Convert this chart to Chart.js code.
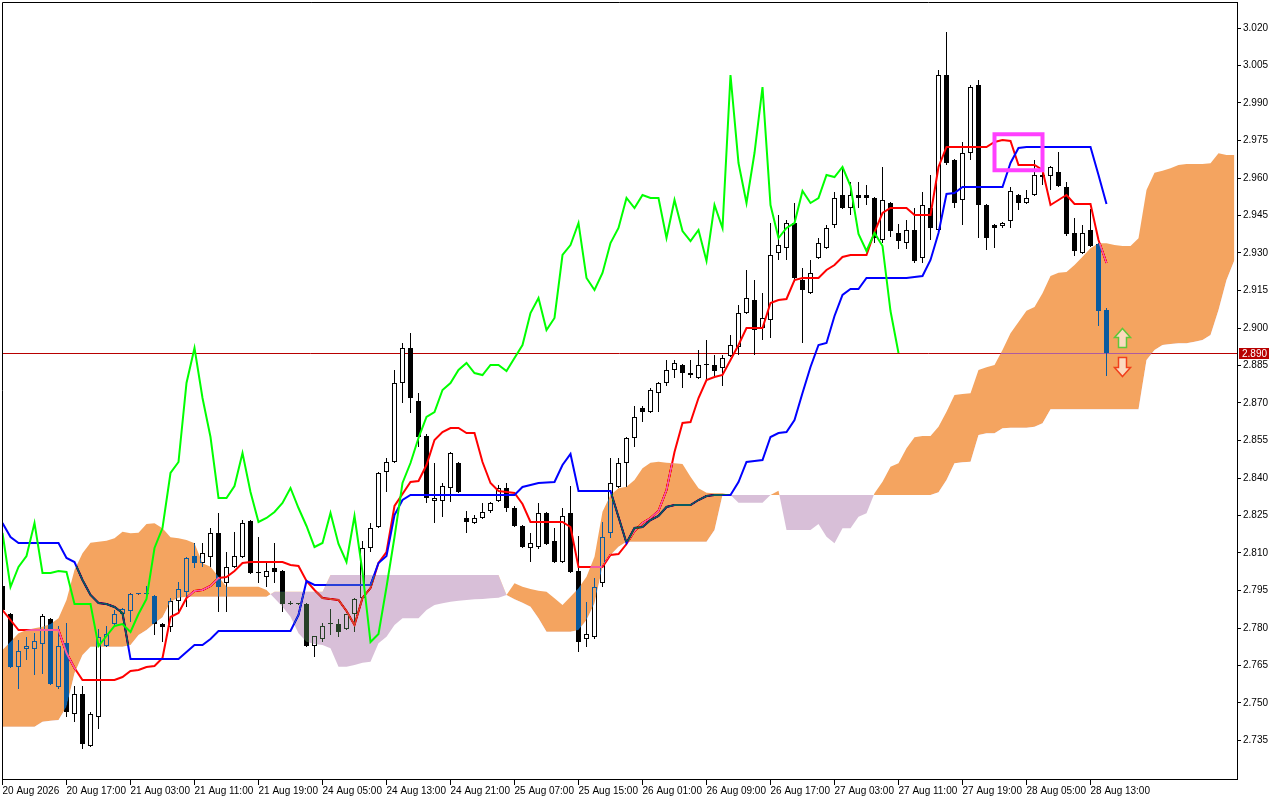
<!DOCTYPE html>
<html>
<head>
<meta charset="utf-8">
<title>Ichimoku H1</title>
<script src="https://cdn.jsdelivr.net/npm/chart.js@4.4.1/dist/chart.umd.min.js"></script>
<style>
  html, body { margin: 0; padding: 0; background: #fff; overflow: hidden; }
  #wrap { position: relative; width: 1280px; height: 800px; }
</style>
</head>
<body>
<div id="wrap"><canvas id="myChart"></canvas></div>
<script>
const ctx = document.getElementById('myChart');

// hourly candles, bar 0 = first bar on screen
const opens = [
  2.7968, 2.7856, 2.7644, 2.7716, 2.7716, 2.7736, 2.7836, 2.7564, 2.7740, 2.7456,
  2.7536, 2.7328, 2.7444, 2.7728, 2.7816, 2.7856, 2.7868, 2.7936, 2.7936, 2.7928,
  2.7816, 2.7804, 2.7908, 2.7944, 2.8088, 2.8060, 2.8084, 2.8180, 2.7980, 2.8044,
  2.8084, 2.8228, 2.8020, 2.8004, 2.8040, 2.8028, 2.7896, 2.7896, 2.7896, 2.7728,
  2.7756, 2.7816, 2.7816, 2.7796, 2.7856, 2.7920, 2.8120, 2.8204, 2.8424, 2.8464,
  2.8780, 2.8920, 2.8708, 2.8568, 2.8308, 2.8308, 2.8360, 2.8460, 2.8240, 2.8220,
  2.8240, 2.8268, 2.8308, 2.8360, 2.8280, 2.8208, 2.8120, 2.8124, 2.8260, 2.8148,
  2.8064, 2.8260, 2.8028, 2.7756, 2.7764, 2.7980, 2.8180, 2.8364, 2.8460, 2.8560,
  2.8680, 2.8664, 2.8740, 2.8780, 2.8832, 2.8852, 2.8820, 2.8800, 2.8852, 2.8852,
  2.8840, 2.8888, 2.8924, 2.9060, 2.9112, 2.9000, 2.9032, 2.9300, 2.9320, 2.9420,
  2.9192, 2.9140, 2.9280, 2.9320, 2.9412, 2.9532, 2.9480, 2.9532, 2.9532, 2.9520,
  2.9352, 2.9500, 2.9380, 2.9340, 2.9392, 2.9280, 2.9480, 2.9392, 3.0012, 2.9672,
  2.9512, 2.9700, 2.9972, 2.9492, 2.9412, 2.9408, 2.9428, 2.9532, 2.9500, 2.9532,
  2.9612, 2.9608, 2.9624, 2.9564, 2.9380, 2.9300, 2.9392, 2.9336, 2.9072
];
const highs = [
  2.7976, 2.7860, 2.7752, 2.7764, 2.7780, 2.7856, 2.7840, 2.7808, 2.7820, 2.7568,
  2.7568, 2.7464, 2.7796, 2.7808, 2.7872, 2.7880, 2.7938, 2.7938, 2.7968, 2.7932,
  2.7820, 2.7920, 2.7984, 2.8084, 2.8140, 2.8140, 2.8200, 2.8260, 2.8104, 2.8184,
  2.8232, 2.8232, 2.8164, 2.8064, 2.8140, 2.8032, 2.7908, 2.7900, 2.7900, 2.7768,
  2.7820, 2.7876, 2.7836, 2.7856, 2.7920, 2.8148, 2.8220, 2.8424, 2.8480, 2.8832,
  2.8940, 2.8980, 2.8740, 2.8576, 2.8460, 2.8380, 2.8504, 2.8464, 2.8268, 2.8252,
  2.8300, 2.8304, 2.8372, 2.8380, 2.8288, 2.8212, 2.8180, 2.8300, 2.8264, 2.8200,
  2.8280, 2.8368, 2.8168, 2.7904, 2.8000, 2.8224, 2.8480, 2.8480, 2.8564, 2.8688,
  2.8688, 2.8760, 2.8784, 2.8872, 2.8872, 2.8856, 2.8872, 2.8912, 2.8952, 2.8892,
  2.8892, 2.8972, 2.9092, 2.9232, 2.9192, 2.9140, 2.9420, 2.9452, 2.9432, 2.9500,
  2.9240, 2.9272, 2.9360, 2.9412, 2.9544, 2.9644, 2.9584, 2.9584, 2.9572, 2.9524,
  2.9644, 2.9504, 2.9416, 2.9432, 2.9480, 2.9544, 2.9612, 3.0032, 3.0184, 2.9676,
  2.9744, 2.9972, 2.9992, 2.9496, 2.9416, 2.9424, 2.9564, 2.9536, 2.9552, 2.9672,
  2.9652, 2.9648, 2.9704, 2.9584, 2.9440, 2.9412, 2.9476, 2.9340, 2.9080
];
const lows = [
  2.7864, 2.7640, 2.7556, 2.7672, 2.7612, 2.7616, 2.7572, 2.7556, 2.7444, 2.7424,
  2.7316, 2.7324, 2.7396, 2.7724, 2.7812, 2.7852, 2.7824, 2.7934, 2.7932, 2.7772,
  2.7744, 2.7784, 2.7860, 2.7884, 2.8040, 2.8044, 2.8044, 2.7864, 2.7864, 2.8040,
  2.8080, 2.8016, 2.7980, 2.7964, 2.7980, 2.7864, 2.7892, 2.7892, 2.7724, 2.7684,
  2.7744, 2.7772, 2.7764, 2.7792, 2.7784, 2.7912, 2.8104, 2.8200, 2.8344, 2.8460,
  2.8700, 2.8660, 2.8524, 2.8300, 2.8220, 2.8244, 2.8304, 2.8340, 2.8180, 2.8216,
  2.8236, 2.8260, 2.8304, 2.8264, 2.8204, 2.8120, 2.8064, 2.8116, 2.8132, 2.8060,
  2.8060, 2.8020, 2.7704, 2.7724, 2.7756, 2.7964, 2.8160, 2.8360, 2.8364, 2.8524,
  2.8624, 2.8660, 2.8664, 2.8768, 2.8800, 2.8760, 2.8800, 2.8796, 2.8792, 2.8804,
  2.8768, 2.8884, 2.8892, 2.9056, 2.8892, 2.8952, 2.8960, 2.9272, 2.9272, 2.9184,
  2.8940, 2.9136, 2.9276, 2.9316, 2.9400, 2.9476, 2.9452, 2.9480, 2.9492, 2.9340,
  2.9340, 2.9364, 2.9316, 2.9316, 2.9260, 2.9260, 2.9352, 2.9388, 2.9652, 2.9480,
  2.9412, 2.9672, 2.9360, 2.9312, 2.9320, 2.9400, 2.9400, 2.9472, 2.9496, 2.9528,
  2.9572, 2.9552, 2.9564, 2.9368, 2.9288, 2.9296, 2.9324, 2.9008, 2.8808
];
const closes = [
  2.7872, 2.7644, 2.7708, 2.7728, 2.7748, 2.7848, 2.7576, 2.7728, 2.7464, 2.7536,
  2.7336, 2.7456, 2.7764, 2.7776, 2.7856, 2.7876, 2.7936, 2.7936, 2.7938, 2.7816,
  2.7804, 2.7908, 2.7956, 2.8080, 2.8060, 2.8100, 2.8180, 2.7964, 2.8044, 2.8088,
  2.8220, 2.8020, 2.8020, 2.8028, 2.8024, 2.7896, 2.7896, 2.7896, 2.7728, 2.7768,
  2.7808, 2.7816, 2.7784, 2.7856, 2.7916, 2.8120, 2.8200, 2.8420, 2.8464, 2.8780,
  2.8920, 2.8720, 2.8564, 2.8320, 2.8320, 2.8368, 2.8500, 2.8344, 2.8224, 2.8240,
  2.8264, 2.8300, 2.8360, 2.8280, 2.8208, 2.8124, 2.8140, 2.8260, 2.8136, 2.8064,
  2.8248, 2.8024, 2.7744, 2.7776, 2.7964, 2.8164, 2.8380, 2.8460, 2.8560, 2.8644,
  2.8664, 2.8752, 2.8780, 2.8832, 2.8860, 2.8820, 2.8812, 2.8852, 2.8852, 2.8828,
  2.8880, 2.8932, 2.9060, 2.9120, 2.8992, 2.9040, 2.9292, 2.9332, 2.9420, 2.9200,
  2.9152, 2.9220, 2.9340, 2.9400, 2.9520, 2.9480, 2.9532, 2.9520, 2.9520, 2.9360,
  2.9512, 2.9388, 2.9348, 2.9392, 2.9268, 2.9492, 2.9400, 3.0012, 2.9660, 2.9500,
  2.9700, 2.9964, 2.9492, 2.9360, 2.9400, 2.9420, 2.9548, 2.9500, 2.9520, 2.9612,
  2.9604, 2.9644, 2.9568, 2.9376, 2.9308, 2.9380, 2.9328, 2.9068, 2.8900
];

// Ichimoku lines
const tenkan = [
  2.7872, 2.7832, 2.7792, 2.7792, 2.7792, 2.7792, 2.7792, 2.7792, 2.7700, 2.7640,
  2.7592, 2.7592, 2.7592, 2.7592, 2.7592, 2.7604, 2.7628, 2.7632, 2.7644, 2.7648,
  2.7680, 2.7844, 2.7860, 2.7920, 2.7948, 2.7952, 2.7968, 2.8000, 2.8004, 2.8028,
  2.8060, 2.8064, 2.8064, 2.8064, 2.8064, 2.8064, 2.8052, 2.8048, 2.7988, 2.7952,
  2.7920, 2.7916, 2.7912, 2.7868, 2.7812, 2.7920, 2.7960, 2.8060, 2.8104, 2.8288,
  2.8336, 2.8384, 2.8388, 2.8452, 2.8552, 2.8584, 2.8600, 2.8600, 2.8580, 2.8580,
  2.8464, 2.8380, 2.8348, 2.8344, 2.8340, 2.8296, 2.8224, 2.8224, 2.8224, 2.8224,
  2.8224, 2.8204, 2.8044, 2.8044, 2.8044, 2.8044, 2.8092, 2.8096, 2.8136, 2.8188,
  2.8220, 2.8240, 2.8268, 2.8352, 2.8504, 2.8620, 2.8624, 2.8720, 2.8792, 2.8804,
  2.8812, 2.8872, 2.8932, 2.9000, 2.9000, 2.9000, 2.9100, 2.9112, 2.9116, 2.9192,
  2.9200, 2.9200, 2.9200, 2.9232, 2.9252, 2.9284, 2.9292, 2.9292, 2.9292, 2.9384,
  2.9460, 2.9480, 2.9480, 2.9480, 2.9452, 2.9452, 2.9452, 2.9644, 2.9724, 2.9724,
  2.9724, 2.9724, 2.9724, 2.9724, 2.9744, 2.9752, 2.9748, 2.9652, 2.9652, 2.9652,
  2.9632, 2.9492, 2.9512, 2.9532, 2.9496, 2.9496, 2.9496, 2.9352, 2.9260
];
const kijun = [
  2.8220, 2.8164, 2.8140, 2.8140, 2.8140, 2.8140, 2.8140, 2.8140, 2.8080, 2.8064,
  2.7992, 2.7932, 2.7900, 2.7896, 2.7884, 2.7860, 2.7676, 2.7676, 2.7676, 2.7676,
  2.7676, 2.7676, 2.7676, 2.7704, 2.7732, 2.7732, 2.7756, 2.7788, 2.7788, 2.7788,
  2.7788, 2.7788, 2.7788, 2.7788, 2.7788, 2.7788, 2.7788, 2.7852, 2.7988, 2.7972,
  2.7972, 2.7972, 2.7972, 2.7972, 2.7972, 2.7972, 2.7972, 2.8060, 2.8088, 2.8252,
  2.8312, 2.8332, 2.8332, 2.8332, 2.8332, 2.8332, 2.8332, 2.8332, 2.8332, 2.8332,
  2.8332, 2.8332, 2.8332, 2.8332, 2.8332, 2.8364, 2.8372, 2.8380, 2.8382, 2.8384,
  2.8452, 2.8496, 2.8348, 2.8348, 2.8348, 2.8348, 2.8348, 2.8244, 2.8140, 2.8200,
  2.8204, 2.8232, 2.8248, 2.8284, 2.8292, 2.8292, 2.8292, 2.8312, 2.8328, 2.8332,
  2.8332, 2.8332, 2.8384, 2.8464, 2.8468, 2.8472, 2.8564, 2.8580, 2.8584, 2.8632,
  2.8740, 2.8844, 2.8932, 2.8940, 2.9048, 2.9132, 2.9156, 2.9156, 2.9200, 2.9200,
  2.9200, 2.9200, 2.9200, 2.9200, 2.9204, 2.9208, 2.9272, 2.9380, 2.9536, 2.9540,
  2.9564, 2.9564, 2.9564, 2.9564, 2.9564, 2.9564, 2.9660, 2.9720, 2.9724, 2.9724,
  2.9724, 2.9724, 2.9724, 2.9724, 2.9724, 2.9724, 2.9724, 2.9612, 2.9496
];
// cloud spans, already shifted forward (run 16 bars past the last candle)
const spanA = [
  2.7712, 2.7745, 2.7779, 2.7792, 2.7799, 2.7805, 2.7816, 2.7839, 2.7912, 2.8032,
  2.8099, 2.8141, 2.8145, 2.8149, 2.8159, 2.8185, 2.8179, 2.8181, 2.8216, 2.8219,
  2.8199, 2.8163, 2.8159, 2.8152, 2.8139, 2.8059, 2.8045, 2.8005, 2.7965, 2.7965,
  2.7965, 2.7965, 2.7965, 2.7952, 2.7919, 2.7885, 2.7845, 2.7779, 2.7745, 2.7736,
  2.7732, 2.7719, 2.7645, 2.7645, 2.7652, 2.7661, 2.7665, 2.7739, 2.7765, 2.7812,
  2.7839, 2.7839, 2.7839, 2.7872, 2.7892, 2.7899, 2.7905, 2.7909, 2.7912, 2.7915,
  2.7916, 2.7919, 2.7921, 2.7932, 2.7979, 2.7965, 2.7956, 2.7949, 2.7945, 2.7919,
  2.7892, 2.7925, 2.7959, 2.8005, 2.8085, 2.8265, 2.8332, 2.8359, 2.8365, 2.8392,
  2.8439, 2.8461, 2.8465, 2.8461, 2.8459, 2.8456, 2.8405, 2.8359, 2.8341, 2.8339,
  2.8339, 2.8332, 2.8301, 2.8301, 2.8301, 2.8301, 2.8332, 2.8349, 2.8192, 2.8192,
  2.8192, 2.8192, 2.8216, 2.8165, 2.8139, 2.8199, 2.8199, 2.8245, 2.8259, 2.8339,
  2.8385, 2.8445, 2.8459, 2.8519, 2.8563, 2.8568, 2.8568, 2.8605, 2.8665, 2.8732,
  2.8736, 2.8739, 2.8832, 2.8843, 2.8852, 2.8912, 2.8979, 2.9024, 2.9069, 2.9084,
  2.9139, 2.9208, 2.9221, 2.9224, 2.9252, 2.9285, 2.9319, 2.9339, 2.9339, 2.9332,
  2.9328, 2.9328, 2.9359, 2.9552, 2.9621, 2.9629, 2.9639, 2.9652, 2.9656, 2.9656,
  2.9656, 2.9659, 2.9699, 2.9692, 2.9692
];
const spanB = [
  2.7405, 2.7405, 2.7405, 2.7405, 2.7405, 2.7425, 2.7429, 2.7432, 2.7485, 2.7619,
  2.7692, 2.7725, 2.7725, 2.7725, 2.7725, 2.7725, 2.7732, 2.7772, 2.7792, 2.7819,
  2.7843, 2.7905, 2.7921, 2.7925, 2.7925, 2.7925, 2.7925, 2.7925, 2.7925, 2.7925,
  2.7925, 2.7925, 2.7925, 2.7925, 2.7945, 2.7945, 2.7945, 2.7945, 2.7945, 2.7945,
  2.7945, 2.8012, 2.8012, 2.8012, 2.8012, 2.8012, 2.8012, 2.8012, 2.8012, 2.8012,
  2.8012, 2.8012, 2.8012, 2.8012, 2.8012, 2.8012, 2.8012, 2.8012, 2.8012, 2.8012,
  2.8012, 2.8012, 2.8012, 2.7932, 2.7915, 2.7901, 2.7885, 2.7839, 2.7785, 2.7785,
  2.7785, 2.7785, 2.7792, 2.7832, 2.7899, 2.8045, 2.8092, 2.8125, 2.8145, 2.8145,
  2.8145, 2.8145, 2.8145, 2.8145, 2.8145, 2.8145, 2.8145, 2.8145, 2.8145, 2.8192,
  2.8332, 2.8332, 2.8332, 2.8332, 2.8332, 2.8332, 2.8332, 2.8332, 2.8332, 2.8332,
  2.8332, 2.8332, 2.8332, 2.8332, 2.8332, 2.8332, 2.8332, 2.8332, 2.8332, 2.8332,
  2.8332, 2.8332, 2.8332, 2.8332, 2.8332, 2.8332, 2.8332, 2.8343, 2.8392, 2.8459,
  2.8463, 2.8465, 2.8572, 2.8579, 2.8579, 2.8599, 2.8601, 2.8601, 2.8601, 2.8605,
  2.8619, 2.8675, 2.8675, 2.8675, 2.8675, 2.8675, 2.8675, 2.8675, 2.8675, 2.8675,
  2.8675, 2.8675, 2.8675, 2.8872, 2.8912, 2.8932, 2.8936, 2.8939, 2.8939, 2.8945,
  2.8952, 2.8972, 2.9072, 2.9192, 2.9272
];
const CHIKOU_SHIFT = 26;

const tickLabels = [
  '20 Aug 2026', '20 Aug 17:00', '21 Aug 03:00', '21 Aug 11:00', '21 Aug 19:00',
  '24 Aug 05:00', '24 Aug 13:00', '24 Aug 21:00', '25 Aug 07:00', '25 Aug 15:00',
  '26 Aug 01:00', '26 Aug 09:00', '26 Aug 17:00', '27 Aug 03:00', '27 Aug 11:00',
  '27 Aug 19:00', '28 Aug 05:00', '28 Aug 13:00'
];
const BARS_PER_LABEL = 8;
const yTickValues = [
  2.735, 2.750, 2.765, 2.780, 2.795, 2.810, 2.825, 2.840, 2.855, 2.870,
  2.885, 2.900, 2.915, 2.930, 2.945, 2.960, 2.975, 2.990, 3.005, 3.020
];

// objects drawn on the chart
const zoneBox = { fromBar: 124, toBar: 130, top: 2.9775, bottom: 2.9631 };
const upArrow = { bar: 140, tip: 2.9001 };
const downArrow = { bar: 140, tip: 2.8808 };

const FONT = 'Liberation Sans';
const BID_COLOR = '#b80000';
const lastClose = closes[closes.length - 1];

// 8px per bar, plot from x=2 to the price axis at x=1237
const xMin = -0.0625;
const xMax = xMin + (1237 - 2) / 8;

const wickData = opens.map((o, i) => ({ x: i, y: [lows[i], highs[i]] }));
const bodyData = opens.map((o, i) => ({ x: i, y: [o, closes[i]] }));
const toXY = arr => arr.map((v, i) => ({ x: i, y: v }));
const chikouData = toXY(closes.slice(CHIKOU_SHIFT));

const SPAN_A = 4, SPAN_B = 5;

// cloud is painted in "difference" mode (like the terminal does), so what sits under it gets inverted
const extras = {
    id: 'extras',
    beforeDraw(chart) {
        const c = chart.ctx;
        c.save();
        c.fillStyle = '#ffffff';
        c.fillRect(0, 0, chart.width, chart.height);
        c.restore();
    },
    beforeDatasetsDraw(chart) {
        const { ctx: c, chartArea: a, scales } = chart;
        const py = Math.round(scales.y.getPixelForValue(lastClose)) + 0.5;
        c.save();
        c.strokeStyle = BID_COLOR;
        c.lineWidth = 1;
        c.beginPath();
        c.moveTo(a.left, py);
        c.lineTo(a.right, py);
        c.stroke();
        c.restore();
    },
    afterDatasetDraw(chart, args) {
        if (args.index === SPAN_B) chart.ctx.globalCompositeOperation = 'difference';
    },
    beforeDatasetDraw(chart, args) {
        if (args.index === SPAN_A) chart.ctx.globalCompositeOperation = 'source-over';
    },
    afterDatasetsDraw(chart) {
        const { ctx: c, scales: { x, y } } = chart;
        c.save();
        c.globalCompositeOperation = 'source-over';

        // magenta box
        c.strokeStyle = '#ff40ff';
        c.lineWidth = 4;
        const bx0 = x.getPixelForValue(zoneBox.fromBar), bx1 = x.getPixelForValue(zoneBox.toBar);
        const by0 = y.getPixelForValue(zoneBox.top), by1 = y.getPixelForValue(zoneBox.bottom);
        c.strokeRect(bx0, by0, bx1 - bx0, by1 - by0);

        // arrows
        const drawArrow = (a, dir, color) => {
            const cx = x.getPixelForValue(a.bar);
            const ty = Math.round(y.getPixelForValue(a.tip)) + 0.5;
            const s = dir; // 1 = up, -1 = down
            c.beginPath();
            c.moveTo(cx, ty);
            c.lineTo(cx + 8, ty + 9 * s);
            c.lineTo(cx + 4, ty + 9 * s);
            c.lineTo(cx + 4, ty + 19 * s);
            c.lineTo(cx - 4, ty + 19 * s);
            c.lineTo(cx - 4, ty + 9 * s);
            c.lineTo(cx - 8, ty + 9 * s);
            c.closePath();
            c.fillStyle = 'rgba(255,255,255,0.6)';
            c.fill();
            c.strokeStyle = color;
            c.lineWidth = 1.5;
            c.stroke();
        };
        drawArrow(upArrow, 1, '#5ec83a');
        drawArrow(downArrow, -1, '#f0401c');
        c.restore();
    },
    afterDraw(chart) {
        const { ctx: c, chartArea: a, scales: { y } } = chart;
        c.save();
        c.globalCompositeOperation = 'source-over';
        c.strokeStyle = '#000';
        c.lineWidth = 1;
        c.beginPath();
        c.moveTo(a.left + 0.5, a.bottom);
        c.lineTo(a.left + 0.5, a.top + 0.5);
        c.lineTo(a.right, a.top + 0.5);
        c.stroke();

        // last price tag on the axis
        const py = Math.round(y.getPixelForValue(lastClose));
        c.fillStyle = BID_COLOR;
        c.fillRect(a.right + 2, py - 5, 30, 11);
        c.fillStyle = '#fff';
        c.font = '10px "' + FONT + '"';
        c.textBaseline = 'middle';
        c.textAlign = 'left';
        c.fillText(lastClose.toFixed(3), a.right + 5, py + 1);
        c.restore();
    }
};

const lineBase = {
    type: 'line',
    pointRadius: 0,
    pointHoverRadius: 0,
    tension: 0,
    borderWidth: 2,
    fill: false
};

const chart = new Chart(ctx, {
    type: 'bar',
    data: {
        datasets: [
            {
                label: 'wicks',
                data: wickData,
                backgroundColor: '#000',
                borderWidth: 0,
                barThickness: 1,
                minBarLength: 1,
                grouped: false,
                inflateAmount: 0,
                order: 7
            },
            {
                label: 'bodies',
                data: bodyData,
                backgroundColor: (c) => closes[c.dataIndex] >= opens[c.dataIndex] ? '#ffffff' : '#000000',
                borderColor: '#000',
                borderWidth: 1,
                borderSkipped: false,
                barThickness: 5,
                minBarLength: 1,
                grouped: false,
                inflateAmount: 0,
                order: 6
            },
            { ...lineBase, label: 'Tenkan-sen', data: toXY(tenkan), borderColor: '#ff0000', order: 5 },
            { ...lineBase, label: 'Kijun-sen', data: toXY(kijun), borderColor: '#0000ff', order: 4 },
            {
                ...lineBase,
                label: 'Senkou Span A',
                data: toXY(spanA),
                borderWidth: 0,
                borderColor: 'transparent',
                // difference colours: white -> sandybrown / thistle
                fill: { target: '+1', above: '#0b5b9f', below: '#274027' },
                order: 2
            },
            {
                ...lineBase,
                label: 'Senkou Span B',
                data: toXY(spanB),
                borderWidth: 0,
                borderColor: 'transparent',
                order: 3
            },
            { ...lineBase, label: 'Chikou Span', data: chikouData, borderColor: '#00ff00', order: 1 }
        ]
    },
    options: {
        responsive: true,
        maintainAspectRatio: false,
        animation: false,
        devicePixelRatio: 1,
        events: [],
        layout: { padding: { left: 2, top: 2, right: 0, bottom: 0 } },
        plugins: {
            legend: { display: false },
            tooltip: { enabled: false },
            title: { display: false }
        },
        scales: {
            x: {
                type: 'linear',
                min: xMin,
                max: xMax,
                offset: false,
                afterBuildTicks: (s) => {
                    s.ticks = tickLabels.map((_, k) => ({ value: k * BARS_PER_LABEL }));
                },
                afterFit: (s) => {
                    s.height = 21;
                    s.paddingLeft = 0;
                    s.paddingRight = 0;
                },
                grid: {
                    offset: false,
                    drawOnChartArea: false,
                    drawTicks: true,
                    tickLength: 6,
                    color: '#000'
                },
                border: { display: true, color: '#000' },
                ticks: {
                    autoSkip: false,
                    maxRotation: 0,
                    minRotation: 0,
                    align: 'start',
                    padding: 0,
                    color: '#000',
                    font: { family: FONT, size: 10 },
                    callback: (v) => tickLabels[Math.round(v / BARS_PER_LABEL)]
                }
            },
            y: {
                type: 'linear',
                position: 'right',
                min: 2.7196,
                max: 3.0304,
                beginAtZero: false,
                afterBuildTicks: (s) => {
                    s.ticks = yTickValues.map(v => ({ value: v }));
                },
                afterFit: (s) => {
                    s.width = 43;
                    s.paddingTop = 0;
                    s.paddingBottom = 0;
                },
                grid: {
                    drawOnChartArea: false,
                    drawTicks: true,
                    tickLength: 4,
                    color: '#000'
                },
                border: { display: true, color: '#000' },
                ticks: {
                    autoSkip: false,
                    padding: 2,
                    color: '#000',
                    font: { family: FONT, size: 10 },
                    callback: (v) => Number(v).toFixed(3)
                }
            }
        }
    },
    plugins: [extras]
});
</script>
</body>
</html>
